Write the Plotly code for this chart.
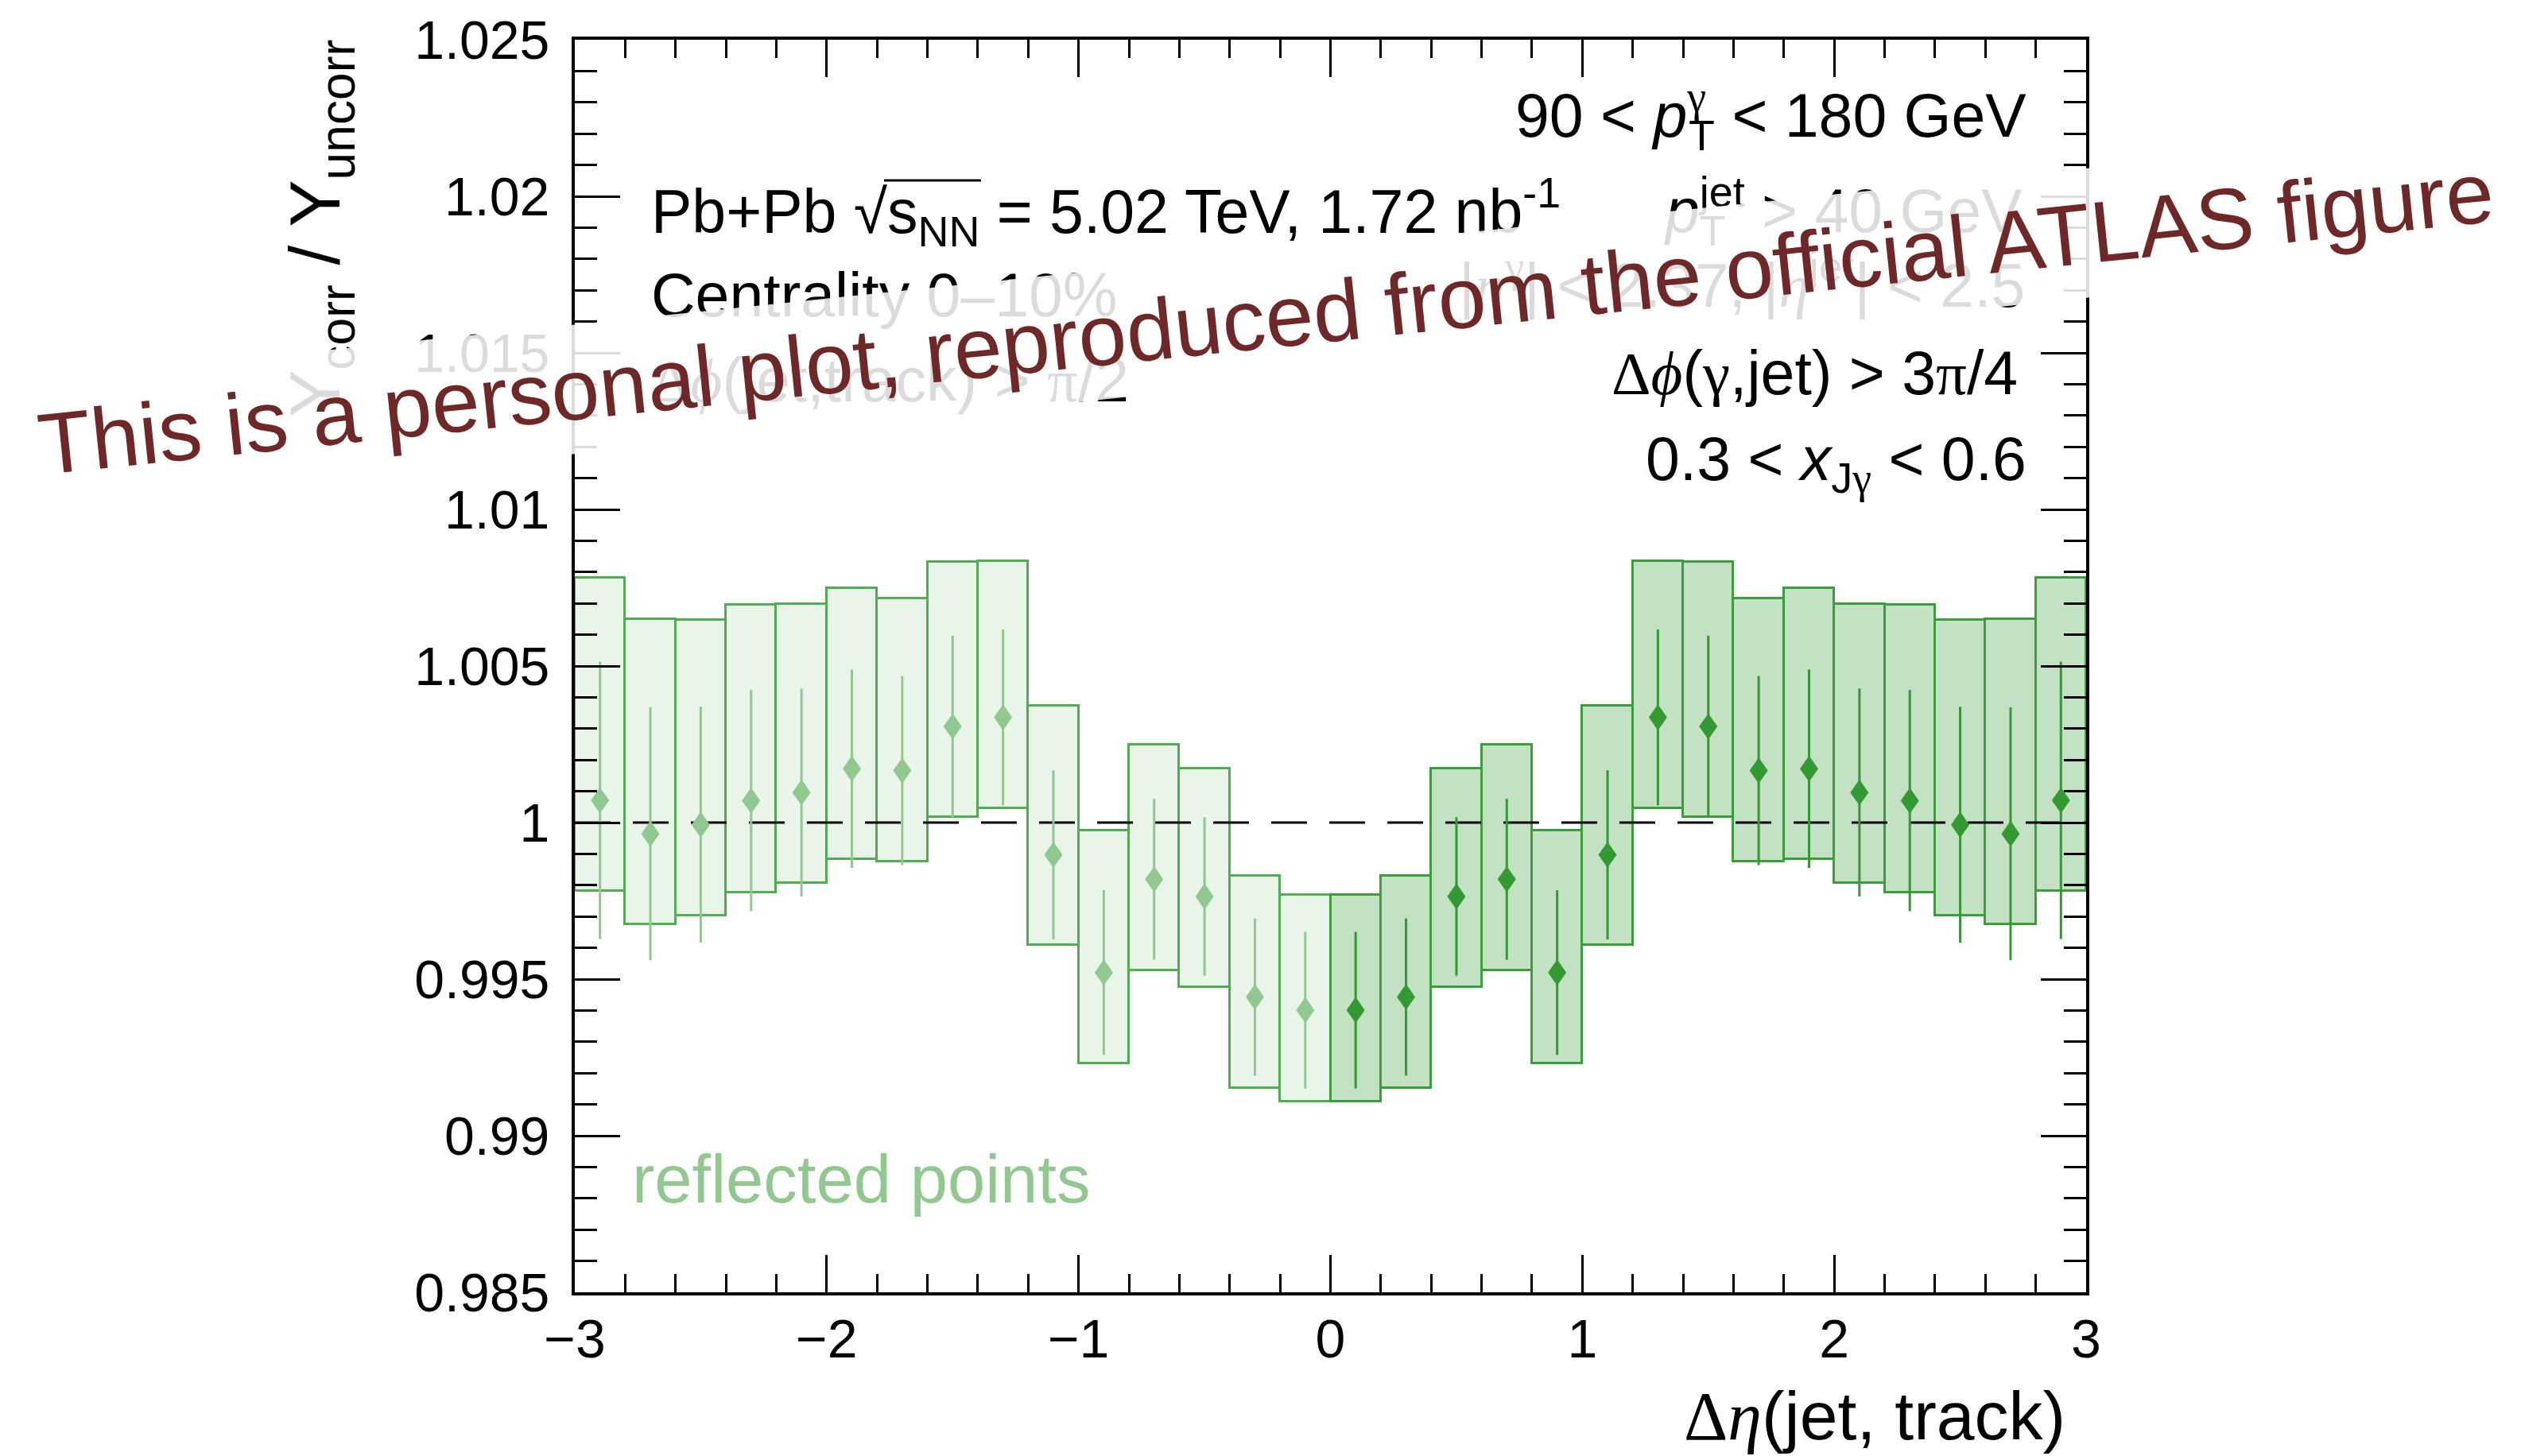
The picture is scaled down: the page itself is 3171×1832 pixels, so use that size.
import plotly.graph_objects as go

# ---- data: per-bin ratio Y_corr / Y_uncorr, positive Δη side ----
eta_centers = [0.1, 0.3, 0.5, 0.7, 0.9, 1.1, 1.3, 1.5, 1.7, 1.9, 2.1, 2.3, 2.5, 2.7, 2.9]
ratio = [0.99401, 0.99443, 0.99764, 0.99819, 0.99521, 0.99897, 1.00336, 1.00307,
         1.00166, 1.00172, 1.00096, 1.00070, 0.99993, 0.99964, 1.00071]
stat_err = [0.00250, 0.00251, 0.00253, 0.00257, 0.00263, 0.00270, 0.00281, 0.00290,
            0.00302, 0.00317, 0.00332, 0.00353, 0.00377, 0.00404, 0.00443]
syst_low = [0.99110, 0.99153, 0.99474, 0.99529, 0.99231, 0.99608, 1.00046, 1.00017,
            0.99875, 0.99883, 0.99806, 0.99777, 0.99702, 0.99674, 0.99783]
syst_high = [0.99768, 0.99831, 1.00172, 1.00250, 0.99974, 1.00374, 1.00835, 1.00832,
             1.00715, 1.00749, 1.00698, 1.00696, 1.00646, 1.00649, 1.00782]
bin_width = 0.2
reference_level = 1.0

x_tick_vals = [-3, -2, -1, 0, 1, 2, 3]
x_tick_text = ["\u22123", "\u22122", "\u22121", "0", "1", "2", "3"]
y_tick_vals = [0.985, 0.99, 0.995, 1.0, 1.005, 1.01, 1.015, 1.02, 1.025]
y_tick_text = ["0.985", "0.99", "0.995", "1", "1.005", "1.01", "1.015", "1.02", "1.025"]

# reflected (negative Δη) points carry the same values
refl_centers = [-c for c in eta_centers]

# ---- geometry / style ----
W, H = 3171, 1832
PL, PR, PT, PB = 723, 2624, 40, 1626
X_RANGE = [-3, 3]
Y_RANGE = [0.985, 1.025]

SANS = "Liberation Sans, Arial, Helvetica, sans-serif"
SERIF = "Liberation Serif"

DARK = "#339933"
EDGE_R = "#3b9d3b"
EDGE_L = "#52ac52"
FILL_R = "#c3e1c3"
FILL_L = "#eaf5ea"
LIGHT = "#90c890"
WATERMARK = "#6e2828"

# diamond marker half-extent in data units (≈23 px wide, 33 px tall)
HW = 11.5 * (X_RANGE[1] - X_RANGE[0]) / (PR - PL)
HH = 16.5 * (Y_RANGE[1] - Y_RANGE[0]) / (PB - PT)


def diamonds(xs, ys):
    px, py = [], []
    for x, y in zip(xs, ys):
        px += [x, x + HW, x, x - HW, x, None]
        py += [y + HH, y, y - HH, y, y + HH, None]
    return px, py


def box_trace(xs, fill, edge):
    return go.Bar(
        x=xs, base=syst_low,
        y=[h - l for h, l in zip(syst_high, syst_low)],
        width=bin_width,
        marker=dict(color=fill, line=dict(color=edge, width=3)),
        showlegend=False, hoverinfo="skip",
    )


def err_trace(xs, color):
    return go.Scatter(
        x=xs, y=ratio, mode="markers",
        marker=dict(size=1, color=color, opacity=0),
        error_y=dict(type="data", array=stat_err, visible=True,
                     color=color, thickness=3, width=0),
        showlegend=False, hoverinfo="skip",
    )


def marker_trace(xs, color):
    dx, dy = diamonds(xs, ratio)
    return go.Scatter(
        x=dx, y=dy, mode="lines", fill="toself", fillcolor=color,
        line=dict(width=0, color=color), showlegend=False, hoverinfo="skip",
    )


fig = go.Figure()
fig.add_trace(box_trace(refl_centers, FILL_L, EDGE_L))
fig.add_trace(box_trace(eta_centers, FILL_R, EDGE_R))
fig.add_trace(go.Scatter(
    x=X_RANGE, y=[reference_level, reference_level], mode="lines",
    line=dict(color="black", width=3, dash="45px,28px"),
    showlegend=False, hoverinfo="skip",
))
fig.add_trace(err_trace(refl_centers, LIGHT))
fig.add_trace(marker_trace(refl_centers, LIGHT))
fig.add_trace(err_trace(eta_centers, DARK))
fig.add_trace(marker_trace(eta_centers, DARK))


def px_x(px):
    return (px - PL) / (PR - PL)


def px_y(py):
    return (PB - py) / (PB - PT)


def g(ch, italic=False):
    s = f'<span style="font-family:{SERIF}">{ch}</span>'
    return f"<i>{s}</i>" if italic else s


def label(text, x, baseline, desc, anchor="left", size=77, color="black"):
    return dict(
        xref="paper", yref="paper", x=px_x(x), y=px_y(baseline + desc),
        xanchor=anchor, yanchor="bottom", showarrow=False, text=text,
        align=anchor, font=dict(family=SANS, size=size, color=color),
        borderpad=0, borderwidth=0,
    )


annotations = [
    label("90 &lt; <i>p</i><sup><span style=\"letter-spacing:-22px\">" + g("γ") +
          "</span></sup><sub>T</sub> &lt; 180 GeV", 2549, 163, 28, "right"),
    label("Pb+Pb √s<sub>NN</sub> = 5.02 TeV, 1.72 nb<sup>-1</sup>",
          819, 285, 28, "left"),
    label("<i>p</i><sub><span style=\"letter-spacing:-33px\">T</span></sub>"
          "<sup>jet</sup> &gt; 40 GeV", 2544, 273, 28, "right"),
    label("Centrality 0–10%", 819, 390, 16, "left"),
    label("|" + g("η", True) + "<sup>" + g("γ") + "</sup>| &lt; 2.37, |" +
          g("η", True) + "<sup>jet</sup>| &lt; 2.5", 2547, 378, 17, "right"),
    label(g("Δ") + g("ϕ", True) + "(jet,track) &gt; " + g("π") + "/2",
          819, 498, 17, "left"),
    label(g("Δ") + g("ϕ", True) + "(" + g("γ") + ",jet) &gt; 3" + g("π") + "/4",
          2538, 489, 17, "right"),
    label("0.3 &lt; <i>x</i><sub>J" + g("γ") + "</sub> &lt; 0.6", 2549, 598, 28, "right"),
    label("reflected points", 795, 1512, 18, "left", size=85, color=LIGHT),
    label(g("Δ") + g("η", True) + "(jet, track)", 2598, 1812, 19, "right", size=86),
    dict(
        xref="paper", yref="paper", x=px_x(459), y=px_y(40),
        xanchor="right", yanchor="top", showarrow=False, textangle=-90,
        text="Y<sub>corr</sub> / Y<sub>uncorr</sub>",
        font=dict(family=SANS, size=89, color="black"),
        borderpad=0, borderwidth=0,
    ),
    # disclaimer banner across the top of the figure
    dict(
        xref="paper", yref="paper", x=px_x(1592), y=px_y(392),
        xanchor="center", yanchor="middle", showarrow=False, textangle=-5.9,
        text="This is a personal plot, reproduced from the official ATLAS figure",
        font=dict(family=SANS, size=109, color=WATERMARK),
        bgcolor="rgba(255,255,255,0.86)", borderpad=20, borderwidth=0,
    ),
]

# vinculum of the square root over s_NN
shapes = [dict(
    type="line", xref="paper", yref="paper", layer="above",
    x0=px_x(1112), x1=px_x(1234), y0=px_y(218), y1=px_y(218),
    line=dict(color="black", width=3),
)]

axis_common = dict(
    showline=True, linecolor="black", linewidth=4, mirror="allticks",
    ticks="inside", tickcolor="black", tickwidth=3,
    showgrid=False, zeroline=False, tickmode="array",
    tickfont=dict(family=SANS, size=68, color="black"),
)

fig.update_xaxes(
    range=X_RANGE, tickvals=x_tick_vals, ticktext=x_tick_text, ticklen=47,
    ticklabelstandoff=-4,
    minor=dict(tickmode="linear", tick0=-3, dtick=0.2, ticks="inside",
               ticklen=23, tickwidth=3, tickcolor="black", showgrid=False),
    **axis_common,
)
fig.update_yaxes(
    range=Y_RANGE, tickvals=y_tick_vals, ticktext=y_tick_text, ticklen=57,
    ticklabelstandoff=14,
    minor=dict(tickmode="linear", tick0=0.985, dtick=0.001, ticks="inside",
               ticklen=28, tickwidth=3, tickcolor="black", showgrid=False),
    **axis_common,
)

fig.update_layout(
    width=W, height=H, autosize=False,
    margin=dict(l=PL, r=W - PR, t=PT, b=H - PB, pad=0),
    paper_bgcolor="white", plot_bgcolor="white",
    barmode="overlay", bargap=0, showlegend=False,
    annotations=annotations, shapes=shapes,
    font=dict(family=SANS, color="black"),
)

fig.write_html("out.html")
